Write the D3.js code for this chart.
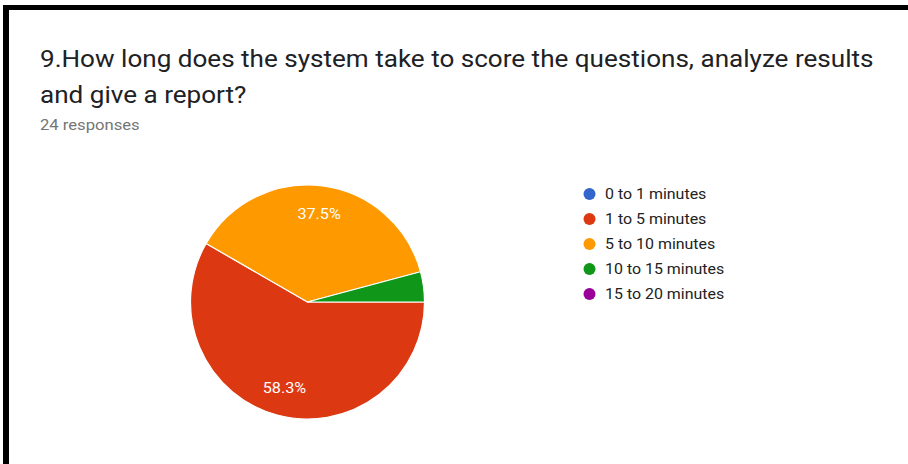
<!DOCTYPE html>
<html>
<head>
<meta charset="utf-8">
<script src="https://cdn.jsdelivr.net/npm/d3@7"></script>
<style>
  html, body { margin: 0; padding: 0; background: #fff; }
  svg { display: block; }
</style>
</head>
<body>
<svg id="chart" width="908" height="464"></svg>
<script>
// Survey question and answer counts (24 responses)
const titleLines = [
  "9.How long does the system take to score the questions, analyze results",
  "and give a report?"
];
const subtitle = "24 responses";
const categories = ["0 to 1 minutes", "1 to 5 minutes", "5 to 10 minutes", "10 to 15 minutes", "15 to 20 minutes"];
const counts = [0, 14, 9, 1, 0];
const colors = ["#3366cc", "#dc3912", "#ff9900", "#109618", "#990099"];

const svg = d3.select("#chart");
const W = 908, H = 464;
const font = "Roboto, Arial, sans-serif";
const stretch = 1.11; // the card's text is set slightly wide

// Frame: white card with a dark edge on the top and left
svg.append("rect").attr("width", W).attr("height", H).attr("fill", "#fff");
svg.append("rect").attr("x", 3).attr("y", 5).attr("width", W - 3).attr("height", 5).attr("fill", "#000");
svg.append("rect").attr("x", 3).attr("y", 5).attr("width", 6).attr("height", H - 5).attr("fill", "#000");

// Title and response count
svg.selectAll("text.title")
  .data(titleLines)
  .join("text")
  .attr("class", "title")
  .attr("transform", (d, i) => `translate(40,${67 + i * 36}) scale(${stretch},1)`)
  .attr("font-family", font)
  .attr("font-size", 23.5)
  .attr("fill", "#202124")
  .text(d => d);

svg.append("text")
  .attr("transform", `translate(40,130) scale(${stretch},1)`)
  .attr("font-family", font)
  .attr("font-size", 15)
  .attr("fill", "#757575")
  .text(subtitle);

// Pie
const total = d3.sum(counts);
const cx = 307.5, cy = 302, R = 117;
const pie = d3.pie().sort(null).value(d => d.v)
  .startAngle(Math.PI / 2).endAngle(Math.PI / 2 + 2 * Math.PI);
const data = categories.map((c, i) => ({ c, v: counts[i], color: colors[i] }));
const arcs = pie(data);
const arc = d3.arc().innerRadius(0).outerRadius(R);
const labelArc = d3.arc().innerRadius(R * 0.76).outerRadius(R * 0.76);

const g = svg.append("g").attr("transform", `translate(${cx},${cy})`);
g.selectAll("path")
  .data(arcs.filter(a => a.data.v > 0))
  .join("path")
  .attr("d", arc)
  .attr("fill", d => d.data.color)
  .attr("stroke", "#fff")
  .attr("stroke-width", 1.2)
  .attr("stroke-linejoin", "round");

// Percentage labels on slices large enough to hold them
g.selectAll("text")
  .data(arcs.filter(a => a.data.v / total >= 0.1))
  .join("text")
  .attr("transform", d => `translate(${labelArc.centroid(d)}) scale(1.08,1)`)
  .attr("text-anchor", "middle")
  .attr("dy", "0.36em")
  .attr("font-family", font)
  .attr("font-size", 15)
  .attr("fill", "#fff")
  .text(d => (d.data.v / total * 100).toFixed(1) + "%");

// Legend
const lg = svg.append("g").attr("transform", "translate(589.5,194)");
const rows = lg.selectAll("g")
  .data(data)
  .join("g")
  .attr("transform", (d, i) => `translate(0,${i * 25})`);
rows.append("circle").attr("r", 6).attr("fill", d => d.color);
rows.append("text")
  .attr("transform", "translate(15.5,0) scale(1.14,1)")
  .attr("dy", "0.36em")
  .attr("font-family", font)
  .attr("font-size", 14)
  .attr("fill", "#222")
  .text(d => d.c);
</script>
</body>
</html>
